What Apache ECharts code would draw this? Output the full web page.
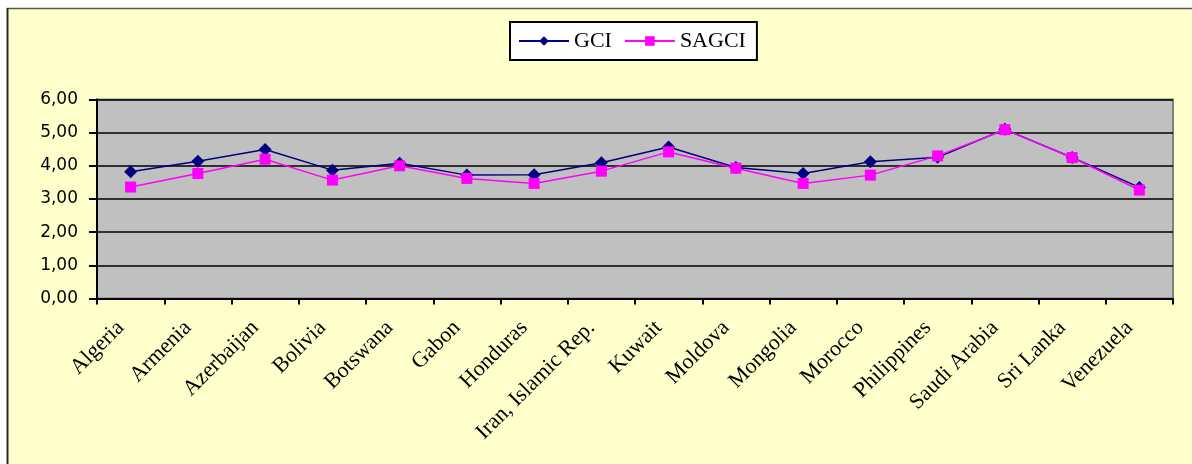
<!DOCTYPE html>
<html>
<head>
<meta charset="utf-8">
<title>GCI and SAGCI by country</title>
<script src="https://cdn.jsdelivr.net/npm/echarts@6/dist/echarts.min.js"></script>
<style>
  html, body { margin: 0; padding: 0; background: #ffffff; }
  #chart { width: 1192px; height: 464px; }
</style>
</head>
<body>
<div id="chart"></div>
<script>
// Countries on the category axis
const countries = [
  'Algeria', 'Armenia', 'Azerbaijan', 'Bolivia', 'Botswana', 'Gabon',
  'Honduras', 'Iran, Islamic Rep.', 'Kuwait', 'Moldova', 'Mongolia',
  'Morocco', 'Philippines', 'Saudi Arabia', 'Sri Lanka', 'Venezuela'
];

// Global Competitiveness Index scores
const gci = [3.82, 4.14, 4.49, 3.87, 4.08, 3.72, 3.73, 4.09, 4.57, 3.95, 3.77, 4.12, 4.26, 5.10, 4.25, 3.35];

// SAGCI scores
const sagci = [3.36, 3.77, 4.20, 3.57, 4.00, 3.62, 3.47, 3.84, 4.42, 3.93, 3.47, 3.72, 4.30, 5.09, 4.25, 3.27];

// Value axis settings
const yMin = 0;
const yMax = 6;
const yStep = 1;

const chart = echarts.init(document.getElementById('chart'), null, { renderer: 'canvas' });

chart.setOption({
  backgroundColor: 'transparent',
  animation: false,
  graphic: [
    {
      type: 'rect',
      z: -10,
      silent: true,
      shape: { x: 7, y: 8, width: 1185, height: 456 },
      style: { fill: '#FFFFCC' }
    },
    {
      type: 'line',
      z: -9,
      silent: true,
      shape: { x1: 7, y1: 8.5, x2: 1192, y2: 8.5 },
      style: { stroke: '#55554a', lineWidth: 1.5 }
    },
    {
      type: 'line',
      z: -9,
      silent: true,
      shape: { x1: 7.5, y1: 8, x2: 7.5, y2: 464 },
      style: { stroke: '#2a2a2a', lineWidth: 2 }
    }
  ],
  legend: {
    left: 510,
    top: 22,
    data: ['GCI', 'SAGCI'],
    itemWidth: 50,
    itemHeight: 12,
    itemGap: 12,
    padding: [8, 11, 8, 8],
    backgroundColor: '#ffffff',
    borderColor: '#000000',
    borderWidth: 2,
    borderRadius: 0,
    textStyle: {
      fontFamily: '"Liberation Serif", "DejaVu Serif", serif',
      fontSize: 22,
      color: '#000000'
    }
  },
  grid: {
    left: 97,
    right: 19,
    top: 99.5,
    bottom: 165.5,
    show: true,
    backgroundColor: '#C0C0C0',
    borderColor: '#808080',
    borderWidth: 2
  },
  xAxis: {
    type: 'category',
    data: countries,
    boundaryGap: true,
    axisLine: { show: true, lineStyle: { color: '#000000', width: 2 } },
    axisTick: { show: true, length: 6, interval: 0, lineStyle: { color: '#000000', width: 2 } },
    axisLabel: {
      interval: 0,
      rotate: 45,
      margin: 16,
      padding: [0, 14, 0, 0],
      fontFamily: '"Liberation Serif", "DejaVu Serif", serif',
      fontSize: 22,
      color: '#000000'
    },
    splitLine: { show: false }
  },
  yAxis: {
    type: 'value',
    min: yMin,
    max: yMax,
    interval: yStep,
    axisLine: { show: true, lineStyle: { color: '#000000', width: 2 } },
    axisTick: { show: true, length: 8, lineStyle: { color: '#000000', width: 2 } },
    axisLabel: {
      margin: 19,
      fontFamily: '"DejaVu Sans", Verdana, sans-serif',
      fontSize: 17,
      color: '#000000',
      formatter: v => v.toFixed(2).replace('.', ',')
    },
    splitLine: { show: true, lineStyle: { color: '#000000', width: 1.5 } }
  },
  series: [
    {
      name: 'GCI',
      type: 'line',
      data: gci,
      symbol: 'diamond',
      symbolSize: 13,
      color: '#000080',
      lineStyle: { color: '#000080', width: 1.5 },
      itemStyle: { color: '#000080' },
      z: 3
    },
    {
      name: 'SAGCI',
      type: 'line',
      data: sagci,
      symbol: 'rect',
      symbolSize: 11,
      color: '#FF00FF',
      lineStyle: { color: '#FF00FF', width: 1.5 },
      itemStyle: { color: '#FF00FF' },
      z: 4
    }
  ]
});
</script>
</body>
</html>
